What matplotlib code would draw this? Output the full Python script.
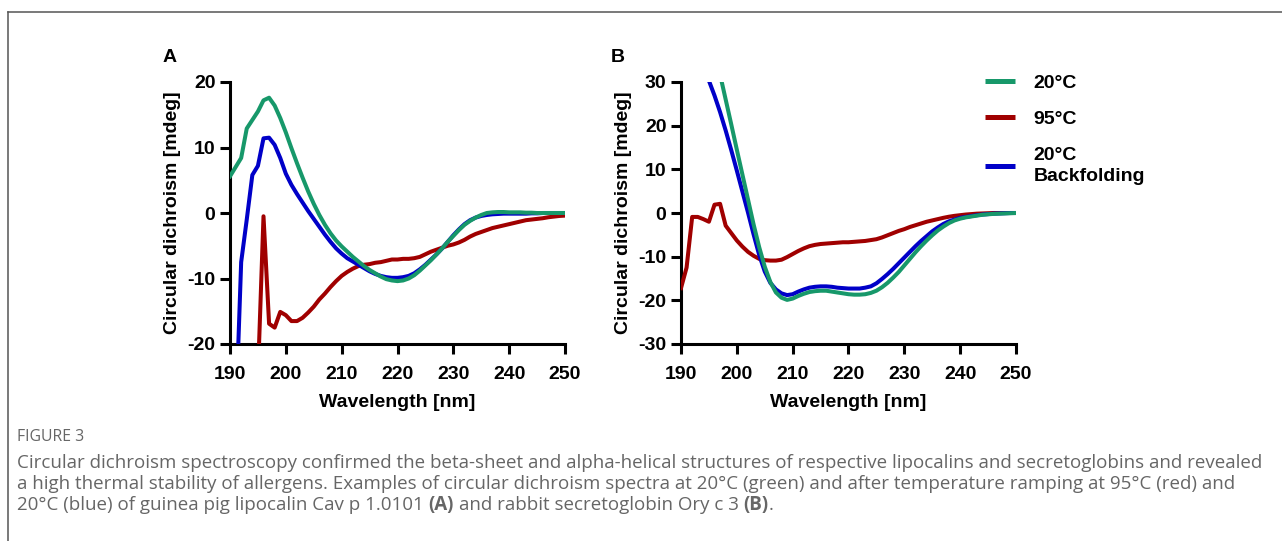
import numpy as np
import matplotlib
matplotlib.use("Agg")
import matplotlib.pyplot as plt
from matplotlib.lines import Line2D
from matplotlib.transforms import IdentityTransform

W, H = 1282, 541
nan = np.nan

# ---------------------------------------------------------------- data
wavelength = np.arange(190, 251)  # nm, 1 nm steps

# panel A: guinea pig lipocalin Cav p 1.0101
a_20 = [5.6, 7.0, 8.4, 12.9, 14.2, 15.5, 17.2, 17.6, 16.4, 14.5,
        12.3, 9.9, 7.6, 5.4, 3.3, 1.4, -0.3, -1.8, -3.1, -4.2,
        -5.1, -5.9, -6.7, -7.4, -8.1, -8.7, -9.2, -9.7, -10.1, -10.3,
        -10.4, -10.3, -10.0, -9.5, -8.8, -8.0, -7.2, -6.3, -5.4, -4.4,
        -3.5, -2.6, -1.8, -1.2, -0.7, -0.3, 0.0, 0.1, 0.15, 0.15,
        0.1, 0.1, 0.1, 0.05, 0.05, 0.0, 0.0, 0.0, 0.0, 0.0,
        0.0]
a_95 = [nan, nan, nan, nan, nan, -25.0, -0.5, -16.9, -17.5, -15.1,
        -15.6, -16.5, -16.5, -16.0, -15.2, -14.3, -13.2, -12.3, -11.3, -10.4,
        -9.6, -9.0, -8.5, -8.1, -7.9, -7.8, -7.6, -7.5, -7.3, -7.1,
        -7.1, -7.0, -7.0, -6.9, -6.7, -6.3, -5.9, -5.6, -5.3, -5.0,
        -4.8, -4.5, -4.1, -3.6, -3.2, -2.9, -2.6, -2.3, -2.1, -1.9,
        -1.7, -1.5, -1.3, -1.1, -1.0, -0.9, -0.8, -0.65, -0.55, -0.45,
        -0.4]
a_back = [-50.0, -32.0, -7.5, -1.0, 5.8, 7.2, 11.4, 11.5, 10.4, 8.4,
          6.0, 4.3, 2.9, 1.6, 0.3, -0.9, -2.1, -3.3, -4.4, -5.4,
          -6.2, -6.9, -7.4, -7.9, -8.4, -8.9, -9.3, -9.6, -9.8, -9.9,
          -9.9, -9.8, -9.6, -9.2, -8.6, -7.9, -7.1, -6.3, -5.4, -4.4,
          -3.4, -2.5, -1.7, -1.1, -0.7, -0.45, -0.3, -0.2, -0.15, -0.1,
          -0.1, -0.1, -0.1, -0.1, -0.05, -0.05, 0.0, 0.0, 0.0, 0.0,
          0.0]

# panel B: rabbit secretoglobin Ory c 3
b_20 = [nan, nan, nan, nan, nan, nan, 37.0, 31.7, 26.0, 20.3,
        14.5, 8.8, 3.1, -2.6, -7.8, -12.3, -15.8, -18.2, -19.4, -19.9,
        -19.6, -19.0, -18.5, -18.1, -17.9, -17.8, -17.8, -18.0, -18.2, -18.4,
        -18.6, -18.7, -18.7, -18.6, -18.3, -17.8, -17.0, -16.0, -14.8, -13.5,
        -12.0, -10.5, -9.0, -7.6, -6.3, -5.1, -4.0, -3.1, -2.3, -1.7,
        -1.3, -1.0, -0.8, -0.6, -0.4, -0.3, -0.2, -0.15, -0.1, -0.05,
        0.0]
b_95 = [-17.2, -12.5, -0.9, -0.9, -1.4, -2.0, 1.9, 2.1, -2.9, -4.6,
        -6.3, -7.7, -8.9, -9.8, -10.5, -10.8, -10.9, -10.9, -10.7, -10.1,
        -9.4, -8.7, -8.1, -7.6, -7.3, -7.1, -7.0, -6.9, -6.8, -6.7,
        -6.7, -6.6, -6.5, -6.4, -6.2, -6.0, -5.6, -5.1, -4.6, -4.1,
        -3.7, -3.2, -2.8, -2.4, -2.0, -1.7, -1.4, -1.1, -0.85, -0.65,
        -0.5, -0.35, -0.25, -0.15, -0.1, -0.05, 0.0, 0.0, 0.0, 0.0,
        0.0]
b_back = [nan, nan, nan, nan, 33.5, 30.3, 26.9, 23.1, 18.9, 14.4,
          9.7, 4.9, 0.1, -4.9, -9.6, -13.4, -16.0, -17.5, -18.4, -18.8,
          -18.6, -18.0, -17.5, -17.1, -16.9, -16.8, -16.8, -16.9, -17.1, -17.2,
          -17.3, -17.3, -17.3, -17.1, -16.8, -16.1, -15.1, -14.0, -12.8, -11.5,
          -10.2, -8.9, -7.6, -6.4, -5.3, -4.2, -3.3, -2.5, -1.9, -1.5,
          -1.1, -0.9, -0.7, -0.5, -0.35, -0.25, -0.15, -0.1, -0.05, 0.0,
          0.0]

labels = ["20°C", "95°C", "20°C\nBackfolding"]
colors = ["#17986a", "#a00000", "#0000c8"]
x_ticks = [190, 200, 210, 220, 230, 240, 250]
a_yticks = [-20, -10, 0, 10, 20]
b_yticks = [-30, -20, -10, 0, 10, 20, 30]

caption_head = "FIGURE 3"
caption_1 = ("Circular dichroism spectroscopy confirmed the beta-sheet and alpha-helical "
             "structures of respective lipocalins and secretoglobins and revealed")
caption_2 = ("a high thermal stability of allergens. Examples of circular dichroism spectra "
             "at 20°C (green) and after temperature ramping at 95°C (red) and")
caption_3 = [("20°C (blue) of guinea pig lipocalin Cav p 1.0101", False, True),
             ("(A)", True, True),
             ("and rabbit secretoglobin Ory c 3", False, True),
             ("(B)", True, False),
             (".", False, False)]

# ---------------------------------------------------------------- style
plt.rcParams["font.family"] = ["Liberation Sans", "DejaVu Sans"]
plt.rcParams["font.weight"] = "bold"
plt.rcParams["axes.unicode_minus"] = False
FS = 14
LW_AX = 2.2
PX = IdentityTransform()


def px_rect(left, top, right, bottom):
    return [left / W, 1 - bottom / H, (right - left) / W, (bottom - top) / H]


def style_axes(ax, yticks):
    for side in ("top", "right"):
        ax.spines[side].set_visible(False)
    for side in ("left", "bottom"):
        ax.spines[side].set_linewidth(LW_AX)
        ax.spines[side].set_capstyle("projecting")
    ax.set_xlim(190, 250)
    ax.set_ylim(yticks[0], yticks[-1])
    ax.set_xticks(x_ticks)
    ax.set_yticks(yticks)
    ax.tick_params(direction="out", length=7.5, width=LW_AX, labelsize=FS, pad=3.0)
    ax.tick_params(axis="x", pad=8.5)
    ax.set_xlabel("Wavelength [nm]", fontsize=FS, fontweight="bold")
    ax.set_ylabel("Circular dichroism [mdeg]", fontsize=FS, fontweight="bold")
    ax.xaxis.set_label_coords(0.5, -0.19)
    ax.yaxis.set_label_coords(-0.145, 0.5)


fig = plt.figure(figsize=(W / 100, H / 100), dpi=100)

ax_a = fig.add_axes(px_rect(230, 82, 565, 344))
ax_b = fig.add_axes(px_rect(681, 82, 1016, 344))

for ax, series, yt in ((ax_a, (a_20, a_95, a_back), a_yticks),
                       (ax_b, (b_20, b_95, b_back), b_yticks)):
    # draw order: red, blue, green on top
    for i in (1, 2, 0):
        ax.plot(wavelength, series[i], color=colors[i], lw=2.9,
                solid_joinstyle="round", label=labels[i], zorder=3 + (i == 0))
    style_axes(ax, yt)

handles = [Line2D([], [], color=c, lw=3.6, solid_capstyle="butt") for c in colors]
leg = fig.legend(handles, labels, loc="upper left",
                 bbox_to_anchor=(985 / W, 1 - 74 / H), frameon=False,
                 prop={"size": FS, "weight": "bold"}, handlelength=1.55,
                 handletextpad=0.95, labelspacing=0.97, borderpad=0, borderaxespad=0)
for t in leg.get_texts():
    t.set_linespacing(1.3)

fig.text(170, H - 57, "A", transform=PX, fontsize=FS, fontweight="bold",
         ha="center", va="center")
fig.text(618, H - 57, "B", transform=PX, fontsize=FS, fontweight="bold",
         ha="center", va="center")

# frame around the figure (top and left edges visible)
fig.add_artist(Line2D([8, W], [H - 12, H - 12], transform=PX, color="#555555", lw=1.1))
fig.add_artist(Line2D([8, 8], [0, H - 12], transform=PX, color="#555555", lw=1.1))

# ---------------------------------------------------------------- caption
cap_font = ["Open Sans", "DejaVu Sans"]
cap_color = "#666666"
renderer = fig.canvas.get_renderer()

probe = fig.text(0, 0, caption_1, transform=PX, fontsize=11, family=cap_font,
                 fontweight="normal")
w1 = probe.get_window_extent(renderer).width
probe.remove()
cap_fs = 11 * (1248 / w1)

fig.text(17, H - 437, caption_head, transform=PX, fontsize=cap_fs * 0.85,
         family=cap_font, fontweight="normal", color=cap_color, va="center")
fig.text(17, H - 463, caption_1, transform=PX, fontsize=cap_fs, family=cap_font,
         fontweight="normal", color=cap_color, va="center")
fig.text(17, H - 484, caption_2, transform=PX, fontsize=cap_fs, family=cap_font,
         fontweight="normal", color=cap_color, va="center")

sp1 = fig.text(0, 0, "a a", transform=PX, fontsize=cap_fs, family=cap_font, fontweight="normal")
sp2 = fig.text(0, 0, "aa", transform=PX, fontsize=cap_fs, family=cap_font, fontweight="normal")
space_w = sp1.get_window_extent(renderer).width - sp2.get_window_extent(renderer).width
sp1.remove()
sp2.remove()

x = 17
for txt, bold, space in caption_3:
    t = fig.text(x, H - 505, txt, transform=PX, fontsize=cap_fs, family=cap_font,
                 fontweight="bold" if bold else "normal", color=cap_color, va="center")
    x += t.get_window_extent(renderer).width + (space_w if space else 0)

fig.savefig("out.png", dpi=100)
